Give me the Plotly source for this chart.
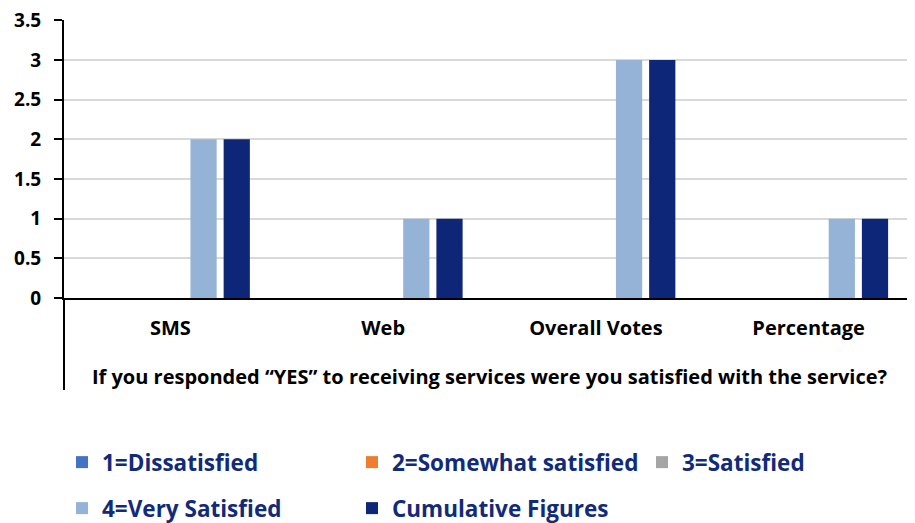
import plotly.graph_objects as go

categories = ["SMS", "Web", "Overall Votes", "Percentage"]
series_names = ["1=Dissatisfied", "2=Somewhat satisfied", "3=Satisfied",
                "4=Very Satisfied", "Cumulative Figures"]
dissatisfied = [0, 0, 0, 0]
somewhat_satisfied = [0, 0, 0, 0]
satisfied = [0, 0, 0, 0]
very_satisfied = [2, 1, 3, 1]
cumulative = [2, 1, 3, 1]
y_ticks = [0, 0.5, 1, 1.5, 2, 2.5, 3, 3.5]
x_title = "If you responded “YES” to receiving services were you satisfied with the service?"

colors = ["#4472C4", "#ED7D31", "#A5A5A5", "#95B3D7", "#0D2677"]
values = [dissatisfied, somewhat_satisfied, satisfied, very_satisfied, cumulative]
legend_ids = ["legend", "legend2", "legend3", "legend4", "legend5"]
# page body has an 8px margin, so the figure is sized/positioned to compensate
W, H = 907, 515
legend_px = [(54, 433), (344, 433), (634, 433), (54, 479), (344, 479)]

FONT = "Open Sans"
TXT = "#000000"
LEG = "#112A7A"

fig = go.Figure()
for name, vals, col, lg in zip(series_names, values, colors, legend_ids):
    fig.add_trace(go.Bar(x=categories, y=vals, name=name, marker_color=col,
                         marker_line_width=0, legend=lg))

legend_layouts = {}
for lg, (px, py) in zip(legend_ids, legend_px):
    legend_layouts[lg] = dict(orientation="h", xref="container", yref="container",
                              x=px / W, y=1 - py / H, xanchor="left", yanchor="top",
                              font=dict(family=FONT, size=22.5, color=LEG, weight="bold"),
                              bgcolor="rgba(0,0,0,0)")

fig.update_layout(
    width=W, height=H,
    margin=dict(l=56, r=0, t=12, b=225, autoexpand=False),
    plot_bgcolor="white", paper_bgcolor="white",
    barmode="group", bargap=0.22, bargroupgap=0.21,
    font=dict(family=FONT, color=TXT),
    showlegend=True,
    **legend_layouts,
)

fig.update_yaxes(range=[0, 3.505], tickvals=y_ticks, ticktext=[f"{v:g}" for v in y_ticks],
                 automargin=False, ticklabeloverflow="allow",
                 showgrid=True, gridcolor="#D9D9D9", gridwidth=1.5,
                 showline=True, linecolor="black", linewidth=2,
                 ticks="outside", ticklen=8, tickwidth=2, tickcolor="black",
                 ticklabelstandoff=9,
                 tickfont=dict(family=FONT, size=19, color=TXT, weight="bold"),
                 zeroline=False)
fig.update_xaxes(showline=True, linecolor="black", linewidth=2, automargin=False,
                 ticks="", ticklabelstandoff=11,
                 tickfont=dict(family=FONT, size=20, color=TXT, weight="bold"),
                 title=dict(text=x_title, standoff=30,
                            font=dict(family=FONT, size=20, color=TXT, weight="bold")))

# multi-level category axis divider extending below the plot
fig.add_shape(type="line", xref="paper", yref="paper", x0=0, x1=0, y0=0,
              y1=-92 / 278, line=dict(color="black", width=2))

fig.write_html("out.html")
